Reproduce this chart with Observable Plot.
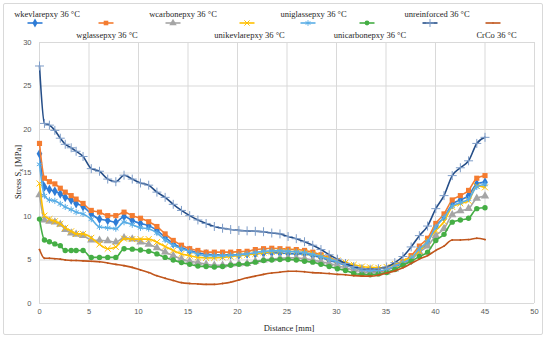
<!DOCTYPE html>
<html><head><meta charset="utf-8">
<script src="https://cdn.jsdelivr.net/npm/d3@7"></script>
<script src="https://cdn.jsdelivr.net/npm/@observablehq/plot@0.6"></script>
<style>
body{margin:0;background:#fff;}
#wrap{position:relative;width:550px;height:340px;overflow:hidden;background:#fff;}
#frame{position:absolute;left:3px;top:3px;width:540px;height:332px;border:1px solid #D9D9D9;box-sizing:border-box;border-radius:2px;}
#wrap svg.chart{position:absolute;left:0;top:0;}
.lg{position:absolute;font-family:"Liberation Serif",serif;font-size:8.5px;color:#262626;white-space:nowrap;transform:translate(-50%,-50%);}
.sw{position:absolute;}
</style></head><body><div id="wrap"><div id="frame"></div></div>
<script>
// ---- data ----
const distance = [0,0.5,1.0,1.55,2.1,2.6,3.2,3.7,4.4,5.23,6.06,6.89,7.71,8.54,9.37,10.2,11.03,11.86,12.69,13.51,14.34,15.17,16.0,16.83,17.66,18.49,19.31,20.14,20.97,21.8,22.63,23.46,24.29,25.11,25.94,26.77,27.6,28.43,29.26,30.09,30.91,31.74,32.57,33.4,34.23,35.06,35.89,36.71,37.54,38.37,39.2,40.03,40.86,41.69,42.51,43.34,44.17,45.0];

const wkevlarepxy = [17.2,13.4,13.1,12.9,12.6,12.2,11.9,11.5,11.15,10.3,9.7,9.55,9.35,10.0,9.55,
  9.2,8.95,8.4,7.6,6.9,6.4,6.1,5.8,5.7,5.6,5.6,5.6,5.6,5.7,
  5.7,5.8,5.85,5.8,5.75,5.7,5.7,5.5,5.3,4.95,4.7,4.4,4.1,3.85,3.7,3.7,3.85,4.25,4.6,5.0,6.1,7.0,8.9,9.9,11.4,11.9,12.4,13.75,13.95];
const wglassepxy = [18.4,14.4,14.0,13.75,13.25,12.8,12.4,12.0,11.5,10.7,10.5,10.1,10.1,10.5,10.1,
  9.8,9.4,8.85,8.0,7.25,6.7,6.3,6.1,5.9,5.9,5.9,5.9,5.97,6.0,
  6.2,6.3,6.35,6.3,6.25,6.2,6.1,5.9,5.6,5.25,4.9,4.5,4.15,3.9,3.8,3.7,3.85,4.35,4.8,5.5,6.6,7.5,9.2,10.3,11.9,12.4,13.0,14.4,14.7];
const wcarbonepxy = [12.5,9.6,9.45,9.35,9.1,8.5,8.1,7.95,7.8,7.3,7.25,7.2,7.05,7.55,7.4,
  7.05,6.8,6.4,5.9,5.5,5.1,4.85,4.7,4.5,4.4,4.4,4.5,4.55,4.6,
  4.85,5.0,5.1,5.2,5.25,5.25,5.15,5.0,4.8,4.6,4.35,4.1,3.85,3.65,3.55,3.5,3.6,3.95,4.5,5.1,5.9,6.6,7.8,8.6,10.2,10.65,10.9,12.1,12.35];
const unikevlarepxy = [13.8,10.1,9.7,9.45,9.15,8.7,8.3,8.0,8.0,7.55,6.8,6.3,6.5,7.45,7.4,
  7.4,7.4,7.05,6.55,6.1,5.7,5.5,5.3,5.25,5.25,5.3,5.4,5.5,5.6,
  5.7,5.85,5.95,6.0,6.0,5.95,5.85,5.7,5.45,5.2,4.95,4.7,4.45,4.25,4.15,4.1,4.2,4.55,4.9,5.3,6.0,7.2,8.4,9.4,11.1,11.5,11.8,13.5,13.35];
const uniglassepxy = [16.0,12.4,11.9,11.8,11.45,11.1,10.8,10.5,10.3,9.7,8.8,8.7,8.6,9.35,9.05,
  8.7,8.6,8.1,7.3,6.7,6.3,6.0,5.7,5.5,5.5,5.5,5.55,5.6,5.7,
  5.85,6.0,6.05,6.05,6.0,5.95,5.85,5.65,5.4,5.1,4.8,4.45,4.15,3.9,3.8,3.75,3.9,4.3,4.7,5.2,6.3,7.1,8.8,9.9,11.2,11.6,12.0,13.4,13.7];
const unicarbonepxy = [9.7,7.3,7.1,6.85,6.65,6.1,6.1,6.1,6.1,5.3,5.3,5.3,5.3,6.3,6.25,
  6.15,6.0,5.7,5.3,5.0,4.7,4.5,4.3,4.25,4.2,4.25,4.4,4.5,4.55,
  4.75,4.95,5.0,5.05,5.05,5.0,4.85,4.75,4.5,4.25,4.0,3.8,3.45,3.35,3.3,3.4,3.55,3.9,4.4,4.85,5.4,5.9,7.25,7.95,9.35,9.6,9.8,10.9,11.0];
const unreinforced = [27.3,20.7,20.5,19.9,19.0,18.3,17.9,17.5,16.9,15.5,15.2,14.3,14.0,14.75,14.3,
  13.85,13.6,12.8,12.2,11.4,10.7,10.1,9.6,9.2,8.85,8.65,8.5,8.4,8.35,
  8.3,8.25,8.1,8.0,7.7,7.45,7.1,6.7,6.2,5.6,5.1,4.6,4.25,4.0,3.95,4.0,4.2,4.7,5.4,6.5,7.8,8.9,10.9,12.4,14.7,15.6,16.4,18.4,19.1];
const CrCo = [6.2,5.2,5.2,5.15,5.1,5.0,4.95,4.95,4.9,4.85,4.8,4.65,4.5,4.35,4.15,
  3.85,3.55,3.2,2.9,2.65,2.4,2.3,2.25,2.2,2.2,2.3,2.45,2.7,2.95,
  3.15,3.35,3.5,3.6,3.7,3.7,3.65,3.55,3.5,3.45,3.35,3.3,3.2,3.15,3.15,3.25,3.5,3.75,4.1,4.6,5.1,5.5,6.1,6.6,7.3,7.3,7.35,7.5,7.35];

const seriesNames = ["wkevlarepxy 36 °C","wglassepxy 36 °C","wcarbonepxy 36 °C","unikevlarepxy 36 °C","uniglassepxy 36 °C","unicarbonepxy 36 °C","unreinforced 36 °C","CrCo 36 °C"];
const seriesValues = [wkevlarepxy,wglassepxy,wcarbonepxy,unikevlarepxy,uniglassepxy,unicarbonepxy,unreinforced,CrCo];
const xTicks = [0,5,10,15,20,25,30,35,40,45,50];
const yTicks = [0,5,10,15,20,25,30];

// ---- styles ----
const styles = [
  {color:"#2E7CD6", symbol:"diamond", r:3.0, filled:true, mcolor:"#2E7CD6"},
  {color:"#F47C30", symbol:"square", r:2.9, filled:true, mcolor:"#F47C30"},
  {color:"#A5A5A5", symbol:"triangle", r:3.1, filled:true, mcolor:"#A5A5A5"},
  {color:"#FFC000", symbol:"times", r:2.8, filled:false, mcolor:"#FFC000"},
  {color:"#5AAEE6", symbol:"asterisk", r:2.9, filled:false, mcolor:"#5AAEE6"},
  {color:"#45AE45", symbol:"circle", r:2.7, filled:true, mcolor:"#45AE45"},
  {color:"#254E88", symbol:"plus", r:3.0, filled:false, mcolor:"#7E9DC8"},
  {color:"#C0561C", symbol:"circle", r:0.9, filled:true, mcolor:"#C0561C"}
];

const marks = [
  Plot.gridX(xTicks, {stroke:"#D9D9D9", strokeOpacity:1, strokeWidth:1}),
  Plot.gridY(yTicks, {stroke:"#D9D9D9", strokeOpacity:1, strokeWidth:1}),
  Plot.axisX(xTicks, {tickSize:0, tickPadding:5, label:null, fill:"#595959"}),
  Plot.axisY(yTicks, {tickSize:0, tickPadding:8, label:null, fill:"#595959"})
];
seriesValues.forEach((vals, k) => {
  const st = styles[k];
  const rows = vals.map((v, i) => ({x: distance[i], y: v}));
  marks.push(Plot.line(rows, {x:"x", y:"y", stroke:st.color, strokeWidth:1.6, curve:"monotone-x"}));
  marks.push(Plot.dot(rows, st.filled
    ? {x:"x", y:"y", symbol:st.symbol, r:st.r, fill:st.mcolor, stroke:"none"}
    : {x:"x", y:"y", symbol:st.symbol, r:st.r, fill:"none", stroke:st.mcolor, strokeWidth:1}));
});

const chart = Plot.plot({
  width:550, height:340,
  marginLeft:39, marginRight:16, marginTop:42, marginBottom:37,
  style:{fontFamily:"'Liberation Sans', sans-serif", fontSize:"7.5px", background:"transparent"},
  x:{domain:[0,50]},
  y:{domain:[0,30]},
  marks
});
chart.classList.add("chart");
const wrap = document.getElementById("wrap");
wrap.appendChild(chart);

// axis titles
const svg = d3.select(chart);
const yt = svg.append("text")
  .attr("transform","translate(21,172) rotate(-90)")
  .attr("text-anchor","middle")
  .attr("font-family","'Liberation Serif', serif").attr("font-size","8.5px").attr("fill","#262626");
yt.append("tspan").text("Stress S");
yt.append("tspan").attr("font-size","6px").attr("dy","2").text("x");
yt.append("tspan").attr("dy","-2").text(" [MPa]");
svg.append("text").attr("x",289).attr("y",331)
  .attr("text-anchor","middle")
  .attr("font-family","'Liberation Serif', serif").attr("font-size","8.5px").attr("fill","#262626")
  .text("Distance [mm]");

// legend
const legendLayout = [
  {lx:47, ly:14, sx:35},
  {lx:107, ly:34.5, sx:106},
  {lx:183, ly:14, sx:173},
  {lx:249.5, ly:34.5, sx:247},
  {lx:313.5, ly:14, sx:308},
  {lx:370, ly:34.5, sx:366.5},
  {lx:437, ly:14, sx:430},
  {lx:496.5, ly:34.5, sx:493}
];
const symMap = {diamond:d3.symbolDiamond, square:d3.symbolSquare, triangle:d3.symbolTriangle, times:d3.symbolTimes, asterisk:d3.symbolAsterisk, circle:d3.symbolCircle, plus:d3.symbolPlus};
seriesNames.forEach((name, k) => {
  const L = legendLayout[k], st = styles[k];
  const d = document.createElement("div");
  d.className = "lg"; d.style.left = L.lx + "px"; d.style.top = L.ly + "px";
  d.textContent = name; wrap.appendChild(d);
  const s = d3.create("svg").attr("class","sw").attr("width",20).attr("height",10)
    .style("left",(L.sx-10)+"px").style("top",(23-5)+"px");
  s.append("line").attr("x1",2.5).attr("x2",17.5).attr("y1",5).attr("y2",5).attr("stroke",st.color).attr("stroke-width",1.6);
  const p = d3.symbol(symMap[st.symbol], Math.PI*st.r*st.r*0.8)();
  const m = s.append("path").attr("d",p).attr("transform","translate(10,5)");
  if (st.filled) m.attr("fill",st.mcolor); else m.attr("fill","none").attr("stroke",st.mcolor).attr("stroke-width",1);
  wrap.appendChild(s.node());
});
</script>
</body></html>
